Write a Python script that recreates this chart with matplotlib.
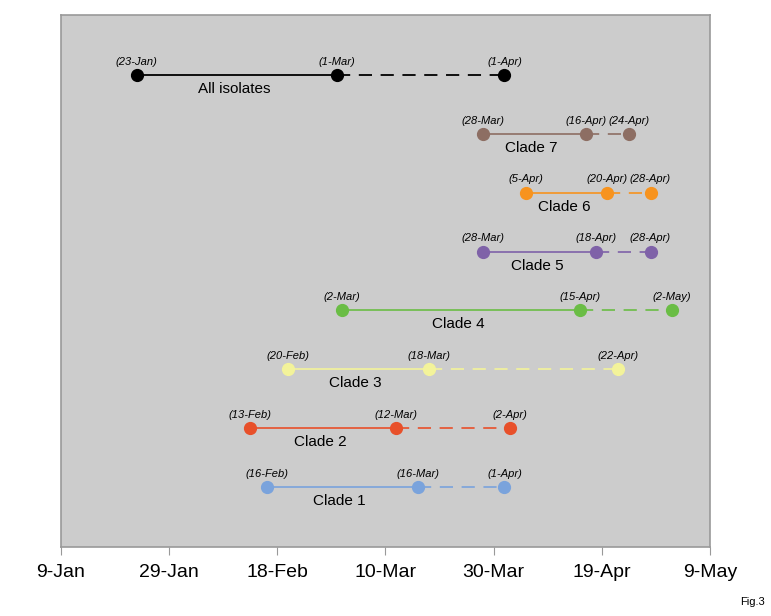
import matplotlib.pyplot as plt
import matplotlib.dates as mdates
from datetime import datetime

plt.rcParams['font.family'] = ['Liberation Sans', 'DejaVu Sans']
plt.rcParams['lines.scale_dashes'] = False

# rows from top to bottom
names = ['All isolates', 'Clade 7', 'Clade 6', 'Clade 5', 'Clade 4', 'Clade 3', 'Clade 2', 'Clade 1']
first = ['23-Jan', '28-Mar', '5-Apr', '28-Mar', '2-Mar', '20-Feb', '13-Feb', '16-Feb']
middle = ['1-Mar', '16-Apr', '20-Apr', '18-Apr', '15-Apr', '18-Mar', '12-Mar', '16-Mar']
last = ['1-Apr', '24-Apr', '28-Apr', '28-Apr', '2-May', '22-Apr', '2-Apr', '1-Apr']
colors = ['#000000', '#8d6e63', '#f7931e', '#7f62a8', '#6abd45', '#f3f39a', '#e8502a', '#7aa3dc']
rows = [8, 7, 6, 5, 4, 3, 2, 1]


def to_date(s):
    return datetime.strptime(s + '-2021', '%d-%b-%Y')


fig = plt.figure(figsize=(7.71, 6.16), dpi=100)
ax = fig.add_axes([61 / 771, 69 / 616, 649 / 771, 532 / 616])
ax.set_facecolor('#cccccc')

for name, a, b, c, col, y in zip(names, first, middle, last, colors, rows):
    da, db, dc = to_date(a), to_date(b), to_date(c)
    lw = 1.3 if col == '#000000' else 1.2
    ax.plot([da, db], [y, y], color=col, lw=lw, solid_capstyle='butt', zorder=2)
    ax.plot([db, dc], [y, y], color=col, lw=lw, dashes=(9.5, 6.2), zorder=2)
    ax.plot([da, db, dc], [y, y, y], 'o', color=col, ms=8.5, zorder=3)
    for d, s in zip([da, db, dc], [a, b, c]):
        ax.annotate('(' + s + ')', (d, y), xytext=(0, 6), textcoords='offset points',
                    ha='center', va='bottom', fontsize=8, style='italic')
    mid = da + (db - da) / 2
    ax.annotate(name, (mid, y), xytext=(-2, -5), textcoords='offset points',
                ha='center', va='top', fontsize=11)

ax.set_xlim(to_date('9-Jan'), to_date('9-May'))
ax.set_ylim(-0.02, 9.02)
ticks = ['9-Jan', '29-Jan', '18-Feb', '10-Mar', '30-Mar', '19-Apr', '9-May']
ax.set_xticks([to_date(t) for t in ticks])
ax.set_xticklabels(ticks, fontsize=14)
ax.set_yticks([])
ax.tick_params(axis='x', direction='out', length=6, color='#999999', pad=6)
for sp in ax.spines.values():
    sp.set_color('#999999')
    sp.set_linewidth(1.2)

fig.text(0.992, 0.015, 'Fig.3', ha='right', va='bottom', fontsize=8)

fig.savefig('out.png', dpi=100)
